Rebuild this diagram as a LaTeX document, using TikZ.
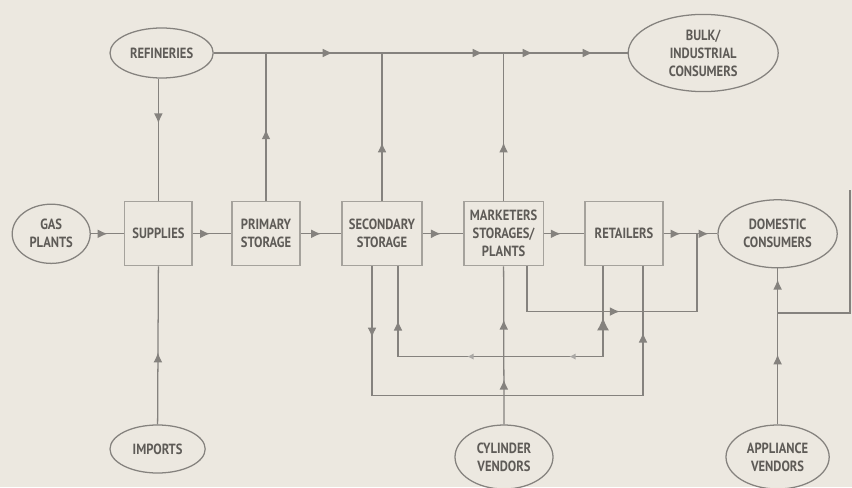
\documentclass[tikz,border=0pt]{standalone}
\usepackage{fontspec}
\setmainfont{PT Sans}[FakeStretch=0.85]
\usepackage{tikz}
\usetikzlibrary{arrows.meta,shapes.geometric,decorations.markings,calc}
\definecolor{paper}{HTML}{ECE8E0}
\definecolor{ink}{HTML}{85827E}
\definecolor{inktext}{HTML}{5E5B57}
\definecolor{boxline}{HTML}{A5A29C}
\tikzset{
  stagebox/.style={draw=boxline,line width=.8pt,fill=paper,minimum width=#1,minimum height=16mm,inner sep=0pt,align=center},
  endpoint/.style n args={2}{ellipse,draw=ink,line width=.9pt,fill=paper,minimum width=#1,minimum height=#2,inner sep=0pt,align=center},
  link/.style={draw=ink,line width=.9pt},
  tipat/.style={postaction={decorate,decoration={markings,mark=at position #1 with {\arrow[ink]{Latex[length=2.5mm,width=2.2mm]}}}}},
  bigback/.style={postaction={decorate,decoration={markings,mark=at position #1 with {\arrowreversed[ink]{Latex[length=3.2mm,width=3mm]}}}}},
  smalltip/.style={postaction={decorate,decoration={markings,mark=at position #1 with {\arrow[ink!70]{Latex[length=1.6mm,width=1.6mm]}}}}}
}
\begin{document}
\begin{tikzpicture}[every node/.style={font=\bfseries\fontsize{10.5}{12.8}\selectfont,text=inktext}]
\fill[paper] (0,0) rectangle (21.3,12.175);
\useasboundingbox (0,0) rectangle (21.3,12.175);
% sources and consumers
\node[endpoint={25.8mm}{12.5mm}] (refineries) at (4.04,10.85) {REFINERIES};
\node[endpoint={37.5mm}{19.3mm}] (bulk) at (17.58,10.85) {BULK/\\INDUSTRIAL\\CONSUMERS};
\node[endpoint={19.5mm}{14.8mm}] (gas) at (1.28,6.33) {GAS\\PLANTS};
\node[endpoint={29.8mm}{17mm}] (domestic) at (19.44,6.33) {DOMESTIC\\CONSUMERS};
\node[endpoint={23.8mm}{12mm}] (imports) at (3.94,0.95) {IMPORTS};
\node[endpoint={24.5mm}{16mm}] (cylinder) at (12.6,0.75) {CYLINDER\\VENDORS};
\node[endpoint={25.8mm}{16mm}] (appliance) at (19.44,0.75) {APPLIANCE\\VENDORS};
% chain of stages
\node[stagebox=16.8mm] (supplies) at (3.96,6.33) {SUPPLIES};
\node[stagebox=17mm] (primary) at (6.65,6.33) {PRIMARY\\STORAGE};
\node[stagebox=20mm] (secondary) at (9.55,6.33) {SECONDARY\\STORAGE};
\node[stagebox=19.8mm] (marketers) at (12.59,6.33) {MARKETERS\\STORAGES/\\PLANTS};
\node[stagebox=19.5mm] (retailers) at (15.6,6.33) {RETAILERS};
\coordinate (merge) at (17.425,6.33);
\coordinate (bend) at (19.44,4.35);
\coordinate (edge) at (21.25,7.43);
% main row
\path[link,tipat=0.5] (gas) -- (supplies);
\path[link,tipat=0.45] (supplies) -- (primary);
\path[link,tipat=0.5] (primary) -- (secondary);
\path[link,tipat=0.45] (secondary) -- (marketers);
\path[link,tipat=0.42] (marketers) -- (retailers);
\path[link,tipat=4.25mm,tipat=11.25mm] (retailers) -- (domestic);
% top line to bulk consumers
\path[link,tipat=2.97cm,tipat=6.72cm,tipat=7.97cm,tipat=9.47cm] (refineries.east) -- (bulk.west);
\path[link,tipat=1.12cm] (supplies.north |- refineries.south) -- (supplies.north);
\path[link,tipat=1.8cm] (imports.north) -- (supplies.south);
\path[link,tipat=1.8cm] (primary.north) -- (primary.north |- refineries.east);
\path[link,tipat=1.47cm] (secondary.north) -- (secondary.north |- refineries.east);
\path[link,tipat=1.47cm] (marketers.north) -- (marketers.north |- refineries.east);
% lower loops
\path[link,tipat=1.78cm,tipat=11.58cm] ([xshift=-2.5mm]secondary.south) -- ++(0,-3.23) -| ([xshift=4.75mm]retailers.south);
\path[link,bigback=1.28cm,smalltip=3.1cm,smalltip=5.65cm,tipat=8.28cm] ([xshift=-5.25mm]retailers.south) -- ++(0,-2.255) -| ([xshift=4mm]secondary.south);
\path[link,tipat=3.45cm] ([xshift=5.85mm]marketers.south) -- ++(0,-1.13) -| (merge);
\path[link,tipat=1.12cm,tipat=2.62cm] (cylinder.north) -- (marketers.south);
\path[link,tipat=1.75cm,tipat=3.62cm] (appliance.north) -- (domestic.south);
\path[link] (bend) -| (edge);
\end{tikzpicture}
\end{document}
